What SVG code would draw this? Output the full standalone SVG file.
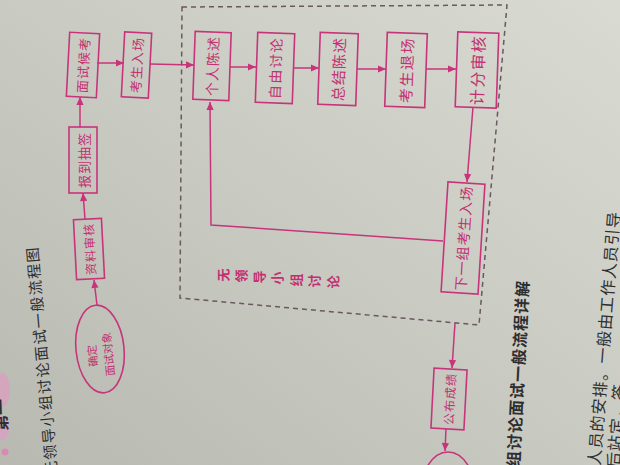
<svg xmlns="http://www.w3.org/2000/svg" width="620" height="465" viewBox="0 0 620 465">
<defs>
<linearGradient id="paper" x1="1" y1="0" x2="0" y2="1">
<stop offset="0" stop-color="#d9dad2"/>
<stop offset="0.5" stop-color="#c9cbc3"/>
<stop offset="1" stop-color="#b8bab2"/>
</linearGradient>
<marker id="ah" viewBox="0 0 10 10" refX="10" refY="5" markerWidth="9" markerHeight="8" markerUnits="userSpaceOnUse" orient="auto">
<path d="M0,0.5 L10,5 L0,9.5 z" fill="#c8347a"/>
</marker>
<style>
.box{fill:none;stroke:#c8347a;stroke-width:1.6}
.ln{fill:none;stroke:#c8347a;stroke-width:1.5;marker-end:url(#ah)}
.bt{font-family:"Noto Sans CJK SC","Noto Sans",sans-serif;fill:#c32f70;text-anchor:middle;dominant-baseline:central}
.pt{font-family:"Noto Sans CJK SC","Noto Sans",sans-serif;fill:#2e2e30;dominant-baseline:central}
.frame{fill:none;stroke:#6a5860;stroke-width:1.5;stroke-dasharray:5 4}
</style>
</defs>
<rect x="0" y="0" width="620" height="465" fill="url(#paper)"/>

<!-- page edge decorations -->
<g id="page-marks">
<ellipse cx="2" cy="390" rx="8" ry="17" fill="#d9a0c0" opacity="0.8"/>
<ellipse cx="2" cy="428" rx="7" ry="12" fill="#d9a0c0" opacity="0.8"/>
<circle cx="5" cy="452" r="3.5" fill="#d98ab0"/>
<text class="pt" x="0" y="415" font-size="16" font-weight="bold" text-anchor="middle" transform="rotate(-92 0 415)">第一</text>
<text class="pt" x="31" y="246" font-size="15" letter-spacing="1.5" text-anchor="end" transform="rotate(-95 31 246)">无领导小组讨论面试一般流程图</text>
<text class="pt" x="522" y="280" font-size="16" font-weight="bold" letter-spacing="1" text-anchor="end" transform="rotate(-87 522 280)">组讨论面试一般流程详解</text>
<text class="pt" x="613" y="211" font-size="16" letter-spacing="1" text-anchor="end" transform="rotate(-85.5 613 211)">作人员的安排。一般由工作人员引导</text>
<text class="pt" x="612" y="468" font-size="16" letter-spacing="1" text-anchor="start" transform="rotate(-85.5 612 468)">后站定，答</text>
</g>

<!-- dashed frame -->
<g id="frame">
<polygon class="frame" points="182,7 507,5 479,325 180,298"/>
</g>

<g id="connectors">
<line class="ln" x1="97" y1="305" x2="94" y2="280"/>
<line class="ln" x1="85" y1="219" x2="83" y2="193"/>
<line class="ln" x1="80" y1="127" x2="80" y2="97"/>
<line class="ln" x1="97" y1="63" x2="124" y2="63"/>
<line class="ln" x1="150" y1="64" x2="194" y2="65"/>
<line class="ln" x1="230" y1="67" x2="256" y2="67"/>
<line class="ln" x1="293" y1="68" x2="319" y2="68"/>
<line class="ln" x1="357" y1="69" x2="386" y2="69"/>
<line class="ln" x1="426" y1="69" x2="456" y2="69"/>
<line class="ln" x1="473" y1="107" x2="467" y2="182"/>
<polyline class="ln" points="443,241 211,225 210,102"/>
<line class="ln" x1="455" y1="323" x2="452" y2="368"/>
<line class="ln" x1="446" y1="429" x2="445" y2="451"/>
</g>

<g id="n-queding" transform="rotate(-6 100 349)">
<ellipse class="box" cx="100" cy="349" rx="24" ry="44"/>
<text class="bt" x="91" y="355" font-size="11" transform="rotate(-90 91 355)">确定</text>
<text class="bt" x="107" y="355" font-size="11" transform="rotate(-90 107 355)">面试对象</text>
</g>

<g id="n-ziliao" transform="rotate(-3 89 249)">
<rect class="box" x="75" y="219" width="28" height="60"/>
<text class="bt" x="89" y="249" font-size="12" letter-spacing="1" transform="rotate(-90 89 249)">资料审核</text>
</g>

<g id="n-baodao">
<rect class="box" x="69" y="127" width="28" height="66"/>
<text class="bt" x="83" y="160" font-size="13" letter-spacing="1" transform="rotate(-90 83 160)">报到抽签</text>
</g>

<g id="n-houkao" transform="rotate(3 83 65)">
<rect class="box" x="68" y="33" width="30" height="64"/>
<text class="bt" x="83" y="65" font-size="13" letter-spacing="1" transform="rotate(-90 83 65)">面试候考</text>
</g>

<g id="n-ruchang1" transform="rotate(3 136.5 65)">
<rect class="box" x="123" y="32.5" width="27" height="65"/>
<text class="bt" x="136.5" y="65" font-size="13" letter-spacing="1" transform="rotate(-90 136.5 65)">考生入场</text>
</g>

<g id="n-geren" transform="rotate(2 212 66)">
<rect class="box" x="194" y="32" width="36" height="68"/>
<text class="bt" x="212" y="66" font-size="14" letter-spacing="1" transform="rotate(-90 212 66)">个人陈述</text>
</g>

<g id="n-ziyou" transform="rotate(2 275 68)">
<rect class="box" x="256.5" y="33" width="37" height="70"/>
<text class="bt" x="275" y="68" font-size="14" letter-spacing="1.5" transform="rotate(-90 275 68)">自由讨论</text>
</g>

<g id="n-zongjie" transform="rotate(2 338 69)">
<rect class="box" x="319" y="33" width="38" height="72"/>
<text class="bt" x="338" y="69" font-size="15" letter-spacing="1" transform="rotate(-90 338 69)">总结陈述</text>
</g>

<g id="n-tuichang" transform="rotate(2 406 70)">
<rect class="box" x="386" y="33" width="40" height="74"/>
<text class="bt" x="406" y="70" font-size="15" letter-spacing="1.5" transform="rotate(-90 406 70)">考生退场</text>
</g>

<g id="n-jifen" transform="rotate(2 477 70)">
<rect class="box" x="456.5" y="32.5" width="41" height="75"/>
<text class="bt" x="477" y="70" font-size="16" letter-spacing="1.5" transform="rotate(-90 477 70)">计分审核</text>
</g>

<g id="n-xiayizu" transform="rotate(3.6 463 238)">
<rect class="box" x="444.5" y="183" width="37" height="110"/>
<text class="bt" x="463" y="238" font-size="14" letter-spacing="1" transform="rotate(-90 463 238)">下一组考生入场</text>
</g>

<g id="n-gongbu" transform="rotate(3 449 399)">
<rect class="box" x="432.5" y="369" width="33" height="60"/>
<text class="bt" x="449" y="399" font-size="12" letter-spacing="1" transform="rotate(-90 449 399)">公布成绩</text>
</g>

<g id="n-end">
<ellipse class="box" cx="448" cy="500" rx="29" ry="48"/>
</g>

<g id="label-wulingdao" font-size="13" font-weight="bold">
<text class="bt" x="222" y="275" transform="rotate(-90 222 275)">无</text>
<text class="bt" x="240" y="276" transform="rotate(-90 240 276)">领</text>
<text class="bt" x="258" y="277" transform="rotate(-90 258 277)">导</text>
<text class="bt" x="276" y="278" transform="rotate(-90 276 278)">小</text>
<text class="bt" x="295" y="280" transform="rotate(-90 295 280)">组</text>
<text class="bt" x="313" y="281" transform="rotate(-90 313 281)">讨</text>
<text class="bt" x="332" y="282" transform="rotate(-90 332 282)">论</text>
</g>
</svg>
